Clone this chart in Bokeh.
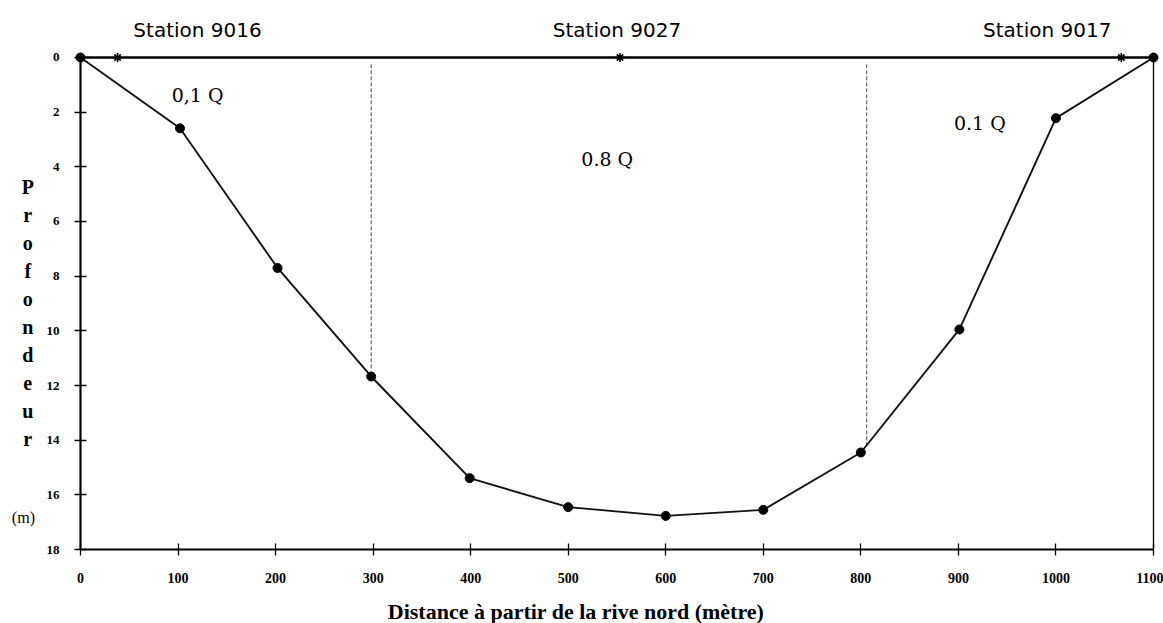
from bokeh.plotting import figure
from bokeh.models import Range1d, Label, FixedTicker
from bokeh.embed import file_html
from bokeh.resources import INLINE

# Cross-section profile (distance from north bank, m ; depth, m)
distance = [0, 102, 202, 298, 399, 500, 600, 700, 800, 901, 1000, 1100]
depth = [0.0, 2.59, 7.7, 11.67, 15.39, 16.45, 16.77, 16.55, 14.45, 9.95, 2.22, 0.0]

# Water surface and right bank limit
surface_x = [0, 1100]
surface_y = [0, 0]
bank_x = [1100, 1100]
bank_y = [0, 18]

# Sampling stations on the surface
station_x = [38, 553, 1067]
station_depth = [0, 0, 0]
station_names = ["Station 9016", "Station 9027", "Station 9017"]
station_label_x = [120, 550, 991]

# Partition lines between discharge fractions
part_x = [298, 806]
part_top = [0.25, 0.25]
part_bottom = [11.45, 14.3]

# Discharge fraction labels
q_labels = ["0,1 Q", "0.8 Q", "0.1 Q"]
q_x = [120, 540, 922]
q_y = [1.39, 3.70, 2.38]

x_ticks = [0, 100, 200, 300, 400, 500, 600, 700, 800, 900, 1000, 1100]
y_ticks = [0, 2, 4, 6, 8, 10, 12, 14, 16, 18]

ylabel_letters = list("Profondeur")

p = figure(width=1163, height=623,
           x_range=Range1d(-82.0, 1110.25), y_range=Range1d(20.707, -2.085),
           output_backend="svg", toolbar_location=None, min_border=0)
p.background_fill_color = "white"
p.border_fill_color = "white"
p.outline_line_color = None
p.grid.visible = False

for ax in (p.xaxis[0], p.yaxis[0]):
    ax.axis_line_width = 2.2
    ax.axis_line_color = "black"
    ax.major_tick_in = 6
    ax.major_tick_out = 6
    ax.major_tick_line_width = 1.3
    ax.major_tick_line_color = "black"
    ax.minor_tick_line_color = None
    ax.major_label_text_font = "Liberation Serif"
    ax.major_label_text_font_style = "bold"
    ax.major_label_text_color = "black"

p.xaxis.ticker = FixedTicker(ticks=x_ticks)
p.yaxis.ticker = FixedTicker(ticks=y_ticks)
p.xaxis.fixed_location = 18
p.yaxis.fixed_location = 0
p.xaxis.bounds = (0, 1100)
p.yaxis.bounds = (0, 18)
p.xaxis.major_label_text_font_size = "14px"
p.yaxis.major_label_text_font_size = "13px"
p.xaxis.major_label_standoff = 17
p.yaxis.major_label_standoff = 15

# surface line and right bank border
p.line(surface_x, surface_y, line_color="black", line_width=2.6)
p.line(bank_x, bank_y, line_color="black", line_width=1.3)

# partition dashed lines
p.segment(x0=part_x, y0=part_top, x1=part_x, y1=part_bottom,
          line_color="#333333", line_width=0.9, line_dash="4 2")

# profile
p.line(distance, depth, line_color="#111111", line_width=1.9)
p.scatter(distance, depth, size=9, color="black")

# stations
p.scatter(station_x, station_depth, marker="asterisk", size=9, line_width=1.6, color="black")

for name, sx in zip(station_names, station_label_x):
    p.add_layout(Label(x=sx, y=-1.0, text=name, text_align="center", text_baseline="middle",
                       text_font="DejaVu Sans", text_font_size="20px", text_color="black"))

for t, qx, qy in zip(q_labels, q_x, q_y):
    p.add_layout(Label(x=qx, y=qy, text=t, text_align="center", text_baseline="middle",
                       text_font="DejaVu Serif", text_font_size="19px", text_color="black"))

for i, ch in enumerate(ylabel_letters):
    p.add_layout(Label(x=-54, y=4.75 + 1.022 * i, text=ch, text_align="center",
                       text_baseline="alphabetic", text_font="Liberation Serif",
                       text_font_style="bold", text_font_size="20px", text_color="black"))

p.add_layout(Label(x=-58.5, y=16.83, text="(m)", text_align="center", text_baseline="middle",
                   text_font="Liberation Serif", text_font_size="16px", text_color="black"))

p.add_layout(Label(x=508, y=20.25, text="Distance à partir de la rive nord (mètre)",
                   text_align="center", text_baseline="alphabetic",
                   text_font="Liberation Serif", text_font_style="bold",
                   text_font_size="22px", text_color="black"))

open("out.html", "w").write(file_html(p, INLINE))
